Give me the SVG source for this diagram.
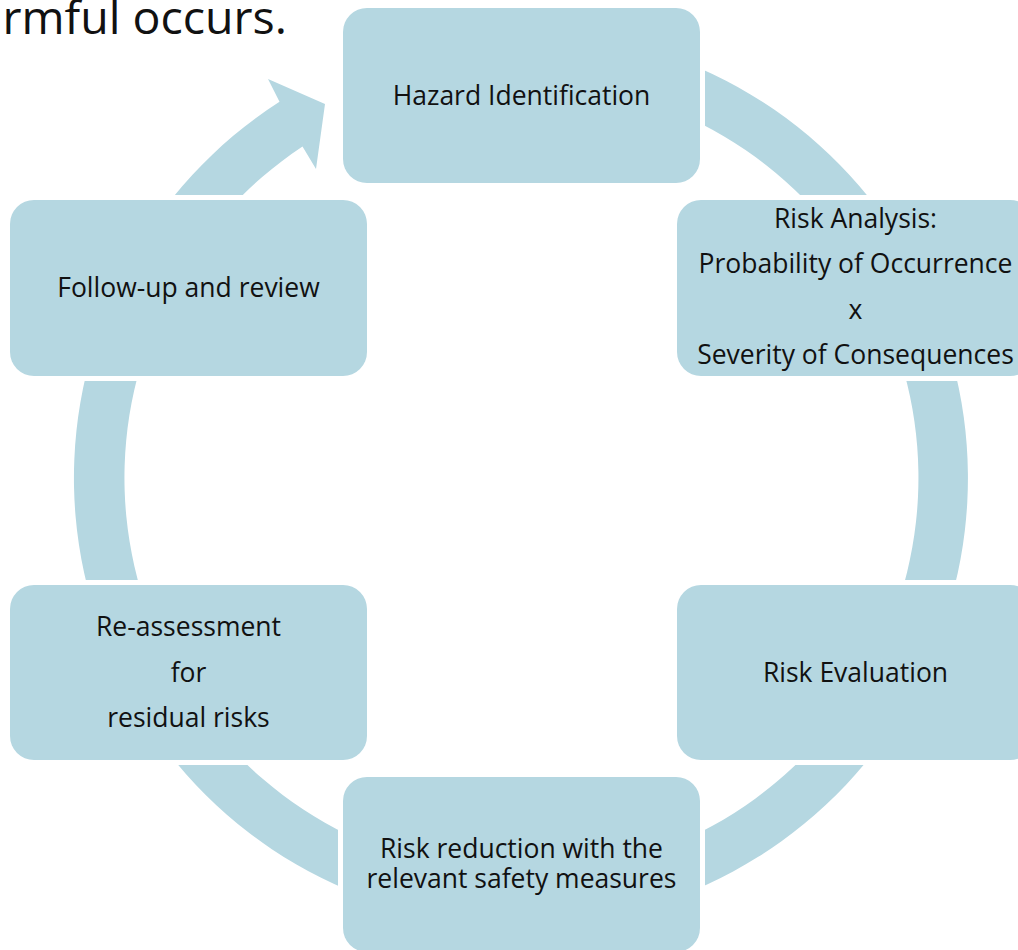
<svg xmlns="http://www.w3.org/2000/svg" width="1018" height="950" viewBox="0 0 1018 950">
  <style>
    .box { fill: #b5d7e1; stroke: #ffffff; stroke-width: 10; paint-order: stroke; }
    .ring { fill: #b5d7e1; }
    .lbl { font-family: "Open Sans", "Noto Sans", sans-serif; font-size: 26.5px; fill: #111111; text-anchor: middle; }
    .head { font-family: "Open Sans", "Noto Sans", sans-serif; font-size: 46.5px; fill: #111111; text-anchor: end; }
  </style>

  <rect width="1018" height="950" fill="#ffffff"/>

  <text class="head" x="287" y="34">rmful occurs.</text>

  <!-- cycle ring: centre (521,478), band between r=397 and r=447, ending in an arrowhead -->
  <g id="connectors">
    <path class="ring" d="M 339.2 69.6 A 447 447 0 1 1 279.5 101.8 L 268 79 L 325 104 L 316 169 L 302.5 146.6 A 397 397 0 1 0 359.5 115.3 Z"/>
  </g>

  <g id="node-hazard">
    <rect class="box" x="343" y="8" width="357" height="175" rx="24"/>
    <text class="lbl" x="521.5" y="105">Hazard Identification</text>
  </g>

  <g id="node-analysis">
    <rect class="box" x="677" y="200" width="357" height="176" rx="24"/>
    <text class="lbl" x="855.5" y="228">Risk Analysis:</text>
    <text class="lbl" x="855.5" y="273">Probability of Occurrence</text>
    <text class="lbl" x="855.5" y="319">x</text>
    <text class="lbl" x="855.5" y="364">Severity of Consequences</text>
  </g>

  <g id="node-evaluation">
    <rect class="box" x="677" y="585" width="357" height="175" rx="24"/>
    <text class="lbl" x="855.5" y="682">Risk Evaluation</text>
  </g>

  <g id="node-reduction">
    <rect class="box" x="343" y="777" width="357" height="175" rx="24"/>
    <text class="lbl" x="521.5" y="858">Risk reduction with the</text>
    <text class="lbl" x="521.5" y="888">relevant safety measures</text>
  </g>

  <g id="node-reassessment">
    <rect class="box" x="10" y="585" width="357" height="175" rx="24"/>
    <text class="lbl" x="188.5" y="636">Re-assessment</text>
    <text class="lbl" x="188.5" y="682">for</text>
    <text class="lbl" x="188.5" y="727">residual risks</text>
  </g>

  <g id="node-followup">
    <rect class="box" x="10" y="200" width="357" height="176" rx="24"/>
    <text class="lbl" x="188.5" y="297">Follow-up and review</text>
  </g>
</svg>
